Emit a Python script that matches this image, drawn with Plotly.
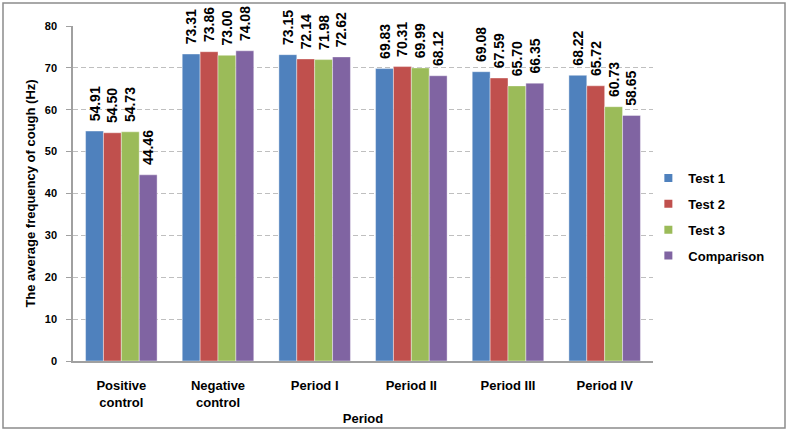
import plotly.graph_objects as go

categories = ["Positive<br>control", "Negative<br>control", "Period I", "Period II", "Period III", "Period IV"]
test1 = [54.91, 73.31, 73.15, 69.83, 69.08, 68.22]
test2 = [54.50, 73.86, 72.14, 70.31, 67.59, 65.72]
test3 = [54.73, 73.00, 71.98, 69.99, 65.70, 60.73]
comparison = [44.46, 74.08, 72.62, 68.12, 66.35, 58.65]
series_names = ["Test 1", "Test 2", "Test 3", "Comparison"]
colors = ["#4F81BD", "#C0504D", "#9BBB59", "#8064A2"]
y_ticks = [0, 10, 20, 30, 40, 50, 60, 70, 80]

W, H = 788, 432
L, R, T, B = 73, 135, 26, 71
FONT = "Liberation Sans, Arial"

fig = go.Figure()
for name, vals, col in zip(series_names, [test1, test2, test3, comparison], colors):
    fig.add_trace(go.Bar(
        x=categories, y=vals, name=name, showlegend=False,
        marker=dict(color=col, line=dict(color="rgba(255,255,255,0.5)", width=0.8)),
        text=["\u00a0\u2009" + f"{v:.2f}" for v in vals], textposition="outside", textangle=-90,
        constraintext="none",
        textfont=dict(family=FONT, size=14, color="black", weight="bold"),
        cliponaxis=False,
    ))
# legend entries with small square swatches
for name, col in zip(series_names, colors):
    fig.add_trace(go.Scatter(
        x=[categories[0]], y=[None], mode="markers", name=name, legendgroup=name,
        marker=dict(symbol="square", size=8, color=col), hoverinfo="skip",
    ))

pw = W - L - R
ph = H - T - B
fig.add_shape(type="rect", xref="paper", yref="paper",
              x0=(3 - L) / pw, x1=(785 - L) / pw,
              y0=(H - B - 428) / ph, y1=(H - B - 3) / ph,
              line=dict(color="#8C8C8C", width=1.5), fillcolor="rgba(0,0,0,0)", layer="below")

fig.update_layout(
    width=W, height=H,
    margin=dict(l=L, r=R, t=T, b=B),
    paper_bgcolor="white", plot_bgcolor="white",
    barmode="group", bargap=0.26, bargroupgap=0,
    font=dict(family=FONT, size=12, color="black"),
    showlegend=True,
    legend=dict(x=0.992, y=0.43, xanchor="left", yanchor="middle",
                font=dict(family=FONT, size=13, color="black", weight="bold"),
                itemwidth=30, tracegroupgap=6, bgcolor="rgba(0,0,0,0)"),
    xaxis=dict(
        showline=True, linecolor="#A0A0A0", linewidth=1.5,
        tickfont=dict(family=FONT, size=13, color="black", weight="bold"),
        ticks="", ticklabelstandoff=12, automargin=False,
        title=dict(text="<b>Period</b>", standoff=5, font=dict(family=FONT, size=13)),
    ),
    yaxis=dict(
        range=[0, 80], tickvals=y_ticks, showline=True, linecolor="#A0A0A0", linewidth=1.5,
        ticks="outside", ticklen=5, tickcolor="#A0A0A0", ticklabelstandoff=7,
        showgrid=True, gridcolor="#BFBFBF", griddash="5px,3px", gridwidth=1,
        zeroline=False, automargin=False,
        tickfont=dict(family=FONT, size=11, color="black", weight="bold"),
        title=dict(text="<b>The average frequency of cough (Hz)</b>", standoff=6,
                   font=dict(family=FONT, size=13)),
    ),
)

fig.write_html("out.html", config={"displayModeBar": False})

with open("out.html", "r", encoding="utf-8") as f:
    html = f.read()
html = html.replace("<head>", "<head><style>html,body{margin:0;padding:0;}</style>", 1)
with open("out.html", "w", encoding="utf-8") as f:
    f.write(html)
